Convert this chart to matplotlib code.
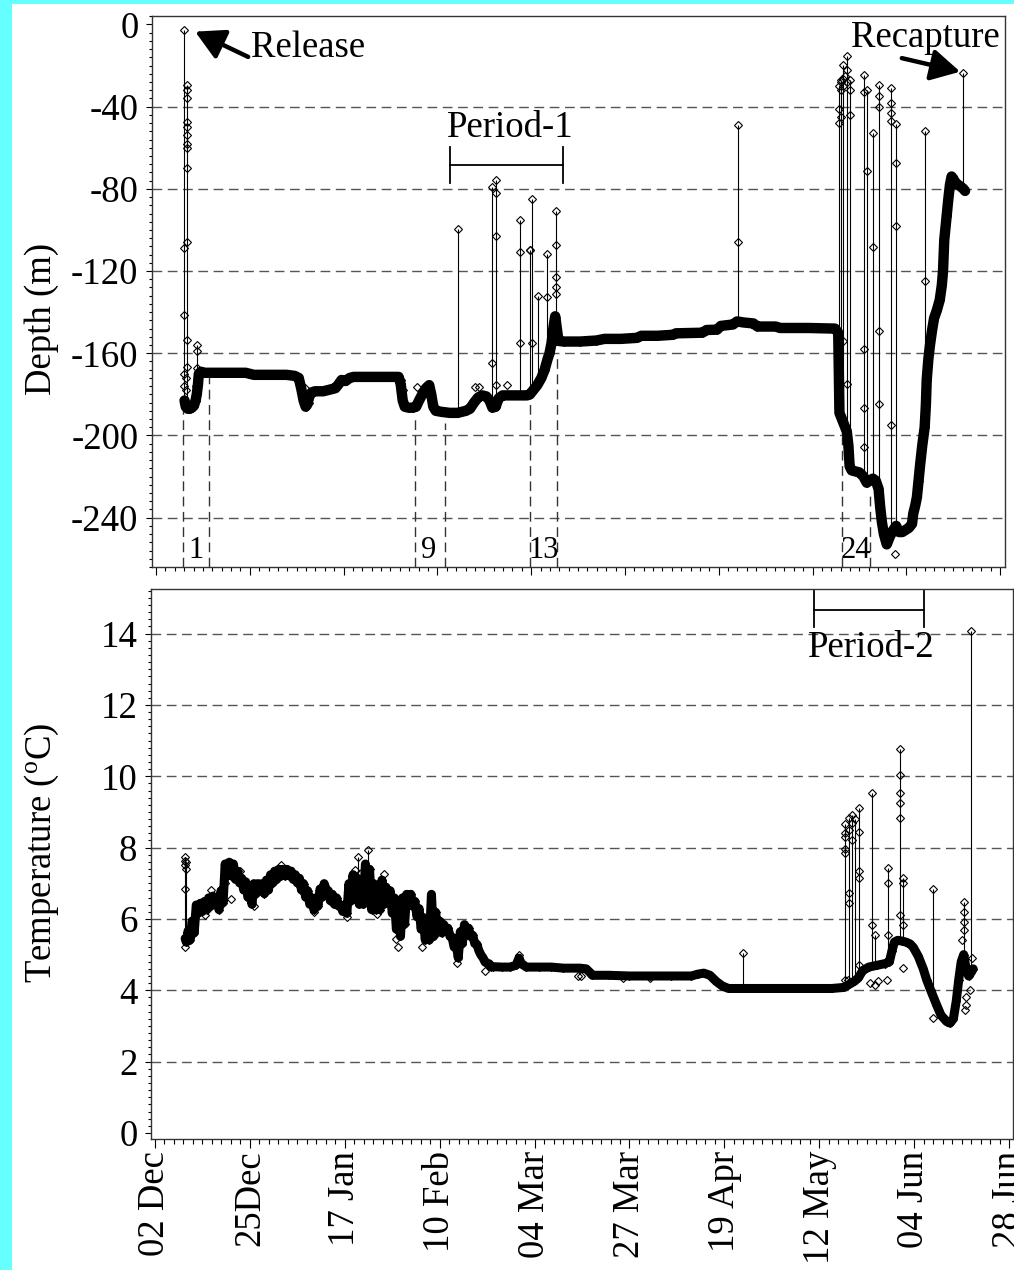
import matplotlib
matplotlib.use("Agg")
import matplotlib.pyplot as plt
from matplotlib.ticker import MultipleLocator
from matplotlib.patches import Rectangle

plt.rcParams['font.family'] = ['Liberation Serif', 'DejaVu Serif']
plt.rcParams['mathtext.fontset'] = 'custom'
plt.rcParams['mathtext.rm'] = 'Liberation Serif'
plt.rcParams['axes.unicode_minus'] = False

# ---------------- data ----------------
x_tick_days = [0, 23, 46, 69, 92, 115, 138, 161, 184, 207]
x_tick_labels = ['02 Dec', '25Dec', '17 Jan', '10 Feb', '04 Mar', '27 Mar',
                 '19 Apr', '12 May', '04 Jun', '28 Jun']
depth_ticks = [0, -40, -80, -120, -160, -200, -240]
depth_tick_labels = ['0', '-40', '-80', '-120', '-160', '-200', '-240']
depth_grid = [-40, -80, -120, -160, -200, -240]
temp_ticks = [0, 2, 4, 6, 8, 10, 12, 14]
temp_tick_labels = ['0', '2', '4', '6', '8', '10', '12', '14']
temp_grid = [2, 4, 6, 8, 10, 12, 14]

# depth track (days since 02 Dec, metres)
depth_day = [7.0, 7.3, 7.8, 8.3, 8.8, 9.3, 9.7, 10.0, 10.3, 10.5, 11.0, 12, 14, 16, 18, 20, 22, 23, 24,
             26, 28, 30, 32, 34, 35, 35.6, 36.2, 36.7, 37.1, 37.6, 38.2, 39, 41, 43, 44, 44.8, 45.5,
             46.5, 47.5, 48.5, 51, 54, 57, 59.5, 60.0, 60.5, 61, 62, 63, 63.8, 64.5, 65.3, 66.2, 67.0,
             67.5, 68.0, 68.6, 70, 72, 74, 76, 77, 78, 79, 80, 81, 81.8, 82.5, 83.3, 84, 85, 88, 91,
             91.7, 92.5, 93.5, 94.5, 95.3, 96, 96.5, 97, 97.5, 97.9, 98.3, 98.7, 100, 104, 108, 110,
             114, 118, 119, 123, 126.8, 127.5, 134, 135, 137.6, 138.5, 141.5, 142.5, 144, 146.5,
             147.5, 152, 153, 160, 166.5, 167.3, 167.6, 168.2, 168.8, 169.4, 169.8, 170.1, 170.6,
             171.5, 172.5, 173.5, 174.3, 175.0, 175.8, 176.5, 177.2, 177.6, 178.0, 178.5, 179.2,
             180.0, 180.8, 181.5, 182.2, 183.0, 183.8, 184.6, 185.4, 185.7, 186.2, 186.6, 187.0,
             187.4, 187.9, 188.5, 188.8, 189.0, 189.4, 189.8, 190.3, 190.8, 191.5, 192.2, 192.7,
             193.0, 193.3, 193.6, 193.9, 194.3, 194.7, 195.1, 195.5, 196.0, 196.7, 197.4, 198.0, 198.4]
depth_m = [-183, -186, -187, -187, -186.5, -185.5, -183, -180, -175, -170, -169, -169.5, -169.5, -169.5,
           -169.5, -169.5, -169.5, -170, -170.5, -170.5, -170.5, -170.5, -170.5, -171, -172, -177, -183,
           -186, -185, -181, -179, -178.5, -178.5, -177.5, -177, -175, -173, -173.5, -172, -171.5,
           -171.5, -171.5, -171.5, -171.5, -175, -183, -186, -186.5, -186.5, -186, -183, -180, -177,
           -175.5, -180, -186, -188, -188.5, -189, -189, -188, -187, -184, -181.5, -180.5, -181, -183,
           -186.5, -186, -182, -180.5, -180.5, -180.5, -180, -178, -175.5, -172, -168, -163, -160,
           -155, -147, -142, -148, -154, -154.3, -154.3, -153.8, -153, -153, -152.5, -151.5, -151.5,
           -151, -150.3, -150, -148.7, -148.5, -146.7, -146, -144.5, -145, -145.5, -147, -147, -147.7,
           -147.7, -148, -150, -189, -192, -195, -198, -205, -215, -217, -217.5, -218, -220, -223,
           -222, -221, -222, -226, -235, -242, -248, -253, -249, -246, -244, -247, -247, -246, -245,
           -243, -238, -234, -230, -222, -214, -205, -196, -185, -173, -163, -156, -149, -143, -139,
           -134, -127, -120, -105, -99, -93, -85, -78, -74, -75, -77, -78, -79, -80, -81]

# excursions (vertical spikes) in depth
depth_spike_day = [6.95, 7.7, 10.1, 74.1, 82.4, 83.5, 89.3, 91.75, 92.2, 93.8, 95.8, 98.0, 142.7,
                   167.4, 167.9, 168.5, 169.4, 170.2, 173.6, 174.3, 175.8, 177.4, 180.3, 181.5,
                   188.6, 197.9]
depth_spike_base = [-186, -186, -183, -189, -186, -185, -180.5, -180, -180, -176, -169, -147, -145,
                    -191, -192, -195, -199, -216, -220, -223, -221, -226, -248, -244, -196, -80]
depth_spike_top = [-2.7, -29.4, -156, -99.7, -78.9, -75.7, -95.1, -110, -85, -132, -111.5, -91, -48.9,
                   -30, -27, -19.5, -15.2, -27, -24.7, -32, -53, -29.3, -30.8, -48.5, -51.8, -23.5]

# isolated readings along the excursions
depth_pt_day = [6.95, 6.95, 6.95, 6.95, 7.7, 7.7, 7.6, 7.7, 7.7, 7.6, 7.7, 7.7, 7.6, 7.7, 7.6, 7.3, 7.3,
                10.1, 10.0, 9.9, 36.5, 37.5, 60.1, 60.5, 64.0, 78.2, 79.2, 86.0,
                82.4, 83.5, 83.5, 83.3, 89.3, 89.3, 91.75, 92.2, 95.8, 98.0, 98.0, 98.0, 98.0, 142.7,
                167.4, 167.4, 167.9, 167.9, 168.5, 168.5, 168.5, 169.4, 169.4, 169.4, 169.4, 170.2,
                170.2, 168.0, 168.9, 173.6, 173.6, 173.6, 173.6, 174.3, 175.8, 177.4, 177.4, 177.4,
                177.4, 180.3, 180.3, 180.3, 180.3, 181.5, 181.5, 188.6, 181.3]
depth_pt_m = [-108.9, -141.4, -170, -176, -32, -36, -47.3, -50, -54, -58, -60.2, -70, -105.7, -153.5,
              -166.7, -172, -178, -159, -167, -176, -177, -184, -173, -178, -176.5, -176.4, -176.4,
              -175.4, -164.8, -81.9, -102.9, -175.4, -110.5, -154.8, -110, -154.8, -132.4, -107.5,
              -123, -128, -131, -105.7, -41, -48, -32, -45, -26.5, -30, -154, -22, -28, -175, -203,
              -32, -44, -28, -25, -32.7, -157.7, -186.4, -205.6, -71.2, -108.5, -35, -40, -149,
              -184.7, -38, -43, -47, -194.9, -67.4, -98, -124.8, -257.7]

# temperature track (upper / lower readings of the band where it is noisy)
temp_day = [7.3, 7.6,
            8.0, 8.5, 9.0, 9.5, 10.0, 10.5, 11.0, 11.5, 12.0, 12.5, 13.0, 13.5, 14.0, 14.5, 15.0, 15.5,
            16.0, 16.5, 17.0, 17.5, 18.0, 18.5, 19.0, 19.5, 20.0, 20.5, 21.0, 21.5, 22.0, 22.5, 23.0,
            23.5, 24.0, 24.5, 25.0, 25.5, 26.0, 26.5, 27.0, 27.5, 28.0, 28.5, 29.0, 29.5, 30.0, 30.5,
            31.0, 31.5, 32.0, 32.5, 33.0, 33.5, 34.0, 34.5, 35.0, 35.5, 36.0, 36.5, 37.0, 37.5, 38.0,
            38.5, 39.0, 39.5, 40.0, 40.5, 41.0, 41.5, 42.0, 42.5, 43.0, 43.5, 44.0, 44.5, 45.0, 45.5,
            46.0, 46.5, 47.0, 47.5, 48.0, 48.5, 49.0, 49.5, 50.0, 50.5, 51.0, 51.5, 52.0, 52.5, 53.0,
            53.5, 54.0, 54.5, 55.0, 55.5, 56.0, 56.5, 57.0, 57.5, 58.0, 58.5, 59.0, 59.5, 60.0, 60.5,
            61.0, 61.5, 62.0, 62.5, 63.0, 63.5, 64.0, 64.5, 65.0, 65.5, 66.0, 66.5, 67.0, 67.5, 68.0,
            68.5, 69.0, 69.5, 70.0, 70.5, 71.0, 71.5, 72.0, 72.5, 73.0, 73.5, 74.0, 74.5, 75.0, 75.5,
            76.0, 76.5, 77.0, 77.5, 78.0, 78.5, 79.0, 79.5, 80.0, 80.5, 81.0, 81.5,
            82, 84, 86, 87.5, 88.2, 88.8, 90, 93, 96, 99, 103, 104.5, 105.4, 106, 110, 115, 120, 125,
            130, 131.5, 133, 134.5, 136, 137.5, 139, 142, 146, 150, 155, 160, 164, 167, 168, 169.5,
            170.5, 171.5, 173, 175, 177, 178, 178.6, 179.2, 180, 181, 182, 183, 183.8, 185, 186.2,
            187, 188, 189.4, 190.5, 191.9, 192.7, 193.5, 194.2, 194.8, 195.4, 196, 196.6, 197.2,
            197.8, 198.3]
temp_c = [5.45, 5.35,
          5.66, 5.41, 5.94, 5.61, 6.39, 6.16, 6.44, 6.21, 6.49, 6.26, 6.59, 6.36, 6.64, 6.41, 6.54,
          6.26, 6.79, 6.46, 7.54, 7.21, 7.59, 7.21, 7.54, 7.11, 7.34, 7.01, 7.14, 6.81, 7.04, 6.61,
          6.69, 6.41, 6.99, 6.71, 6.99, 6.81, 6.99, 6.71, 7.09, 6.81, 7.24, 7.01, 7.34, 7.11, 7.39,
          7.21, 7.39, 7.21, 7.39, 7.21, 7.34, 7.11, 7.24, 7.01, 7.14, 6.81, 6.99, 6.61, 6.79, 6.41,
          6.59, 6.26, 6.59, 6.36, 6.84, 6.61, 6.99, 6.81, 6.79, 6.51, 6.69, 6.41, 6.59, 6.36, 6.39,
          6.21, 6.39, 6.16, 6.99, 6.51, 7.24, 6.61, 7.14, 6.41, 7.09, 6.41, 7.54, 6.61, 7.39, 6.26,
          6.99, 6.26, 6.59, 6.26, 7.09, 6.41, 6.89, 6.51, 6.79, 6.16, 6.59, 5.71, 6.39, 5.51, 6.59,
          5.86, 6.69, 6.41, 6.69, 6.36, 6.49, 6.06, 6.29, 5.71, 6.04, 5.41, 5.84, 5.41, 6.69, 5.51,
          6.19, 5.71, 5.94, 5.61, 5.84, 5.71, 5.74, 5.51, 5.49, 5.21, 5.29, 4.91, 5.64, 5.31, 5.84,
          5.71, 5.74, 5.51, 5.54, 5.31, 5.29, 5.11, 4.99, 4.91, 4.79, 4.76, 4.74, 4.66,
          4.66, 4.65, 4.65, 4.7, 4.9, 4.75, 4.65, 4.65, 4.65, 4.62, 4.62, 4.6, 4.5, 4.42, 4.42, 4.4,
          4.4, 4.4, 4.4, 4.45, 4.48, 4.42, 4.25, 4.12, 4.05, 4.05, 4.05, 4.05, 4.05, 4.05, 4.05,
          4.08, 4.15, 4.25, 4.35, 4.55, 4.65, 4.7, 4.75, 4.8, 5.1, 5.35, 5.4, 5.38, 5.35, 5.3, 5.2,
          4.95, 4.6, 4.3, 4.0, 3.6, 3.3, 3.12, 3.08, 3.2, 3.7, 4.3, 4.8, 5.0, 4.6, 4.4, 4.5, 4.6]

temp_spike_day = [7.27, 7.55, 49.3, 51.7, 142.6, 167.3, 168.2, 169.0, 169.7, 170.6, 173.7, 174.5,
                  177.6, 180.6, 181.4, 188.6, 196.0, 197.7]
temp_spike_base = [5.3, 5.5, 6.9, 7.0, 4.05, 4.12, 4.15, 4.25, 4.3, 4.35, 4.65, 4.68, 4.75, 5.4,
                   5.38, 3.95, 5.0, 4.5]
temp_spike_top = [7.73, 7.6, 7.73, 7.94, 5.05, 8.65, 8.84, 8.9, 8.8, 9.12, 9.54, 5.56, 7.43, 10.76,
                  7.15, 6.83, 6.47, 14.07]

temp_pt_day = [7.27, 7.27, 7.27, 7.27, 7.55, 12.0, 13.5, 17.0, 18.5, 20.5, 24.0, 30.5, 38.5, 40.0,
               46.5, 48.5, 50.0, 53.7, 55.5, 58.5, 59.0, 64.8, 69.5, 73.2, 80.0, 88.2, 102.6, 103.3,
               113.5, 120.0, 167.3, 167.3, 167.3, 167.3, 167.3, 168.2, 168.2, 168.2, 169.0, 169.0,
               170.6, 170.6, 170.6, 170.6, 173.7, 177.6, 177.6, 180.6, 180.6, 180.6, 180.6, 180.6,
               181.4, 181.4, 181.4, 196.0, 196.0, 196.0, 195.5, 196.3, 196.5, 173.3, 174.6, 175.3,
               177.5, 168.0, 188.6, 196.6, 197.5, 198.0]
temp_pt_c = [7.62, 7.5, 6.83, 5.2, 7.4, 6.12, 6.8, 7.0, 6.55, 7.35, 6.35, 7.5, 6.2, 6.85, 6.05, 7.36,
             7.3, 6.14, 7.25, 5.45, 5.22, 5.22, 5.9, 4.77, 4.55, 5.0, 4.39, 4.39, 4.35, 4.35, 8.4, 8.3,
             7.95, 7.85, 4.3, 8.5, 6.73, 6.45, 8.7, 8.2, 8.45, 7.35, 7.15, 4.72, 5.84, 7.0, 5.56,
             10.03, 9.54, 9.26, 8.84, 6.12, 7.0, 5.84, 4.63, 6.2, 5.9, 5.7, 5.4, 3.45, 3.8, 4.2, 4.15,
             4.25, 4.3, 4.3, 3.22, 3.6, 4.0, 4.9]

# dashed reference lines (bottom of axis up to the track) and their labels
event_day = [6.7, 13.1, 63.5, 70.9, 91.7, 98.4, 168.2, 175.0]
event_top = [-186, -171.5, -191.5, -194, -181.7, -160.8, -200.7, -228]
event_label = ['1', '9', '13', '24']
event_label_day = [9.85, 66.9, 95.1, 171.7]

# ---------------- figure ----------------
W, H = 1014, 1270
fig = plt.figure(figsize=(W / 100, H / 100), dpi=100)
fig.patch.set_facecolor('#66ffff')
fig.add_artist(Rectangle((12 / W, 0), 1, 1 - 4 / H, transform=fig.transFigure,
                         facecolor='white', edgecolor='none', zorder=-10))

ax1 = fig.add_axes([152 / W, 1 - 567 / H, (1005 - 152) / W, (567 - 16) / H])
ax2 = fig.add_axes([151 / W, 1 - 1139 / H, (1013 - 151) / W, (1139 - 589) / H])

FS = 26.5
grid_kw = dict(color='#555555', lw=1.0, ls=(0, (7, 4)), zorder=1)
mk = dict(marker='D', ms=4.3, mfc='none', mec='k', mew=0.8, ls='none', zorder=5)

D_BOTTOM, D_TOP = -264, 4.1
T_BOTTOM, T_TOP = -0.17, 15.25

# ---- depth panel ----
for g in depth_grid:
    ax1.axhline(g, **grid_kw)
ax1.vlines(event_day, D_BOTTOM, event_top, colors='#333333', lw=1.0,
           linestyles=[(0, (7, 4))], zorder=1)
ax1.vlines(depth_spike_day, depth_spike_base, depth_spike_top, colors='k', lw=0.8, zorder=3)
ax1.plot(depth_day, depth_m, color='k', lw=7.5, solid_joinstyle='round',
         solid_capstyle='round', marker='D', ms=4.3, mfc='none', mec='k', mew=0.8, zorder=4)
ax1.plot(depth_spike_day, depth_spike_top, **mk)
ax1.plot(depth_pt_day, depth_pt_m, **mk)

for lab, d in zip(event_label, event_label_day):
    ax1.text(d, -259.8, lab, fontsize=22, ha='center', va='baseline')

arrow_kw = dict(arrowstyle='-|>,head_length=1.1,head_width=0.6', lw=3.2, color='k',
                shrinkA=0, shrinkB=0, mutation_scale=16)
ax1.annotate('', xy=(9.6, -3.5), xytext=(22.6, -15.8), arrowprops=arrow_kw)
ax1.text(23.4, -15.8, 'Release', fontsize=FS, ha='left', va='baseline')
ax1.annotate('', xy=(197.2, -23), xytext=(182.9, -16.4), arrowprops=arrow_kw)
ax1.text(170.4, -10.8, 'Recapture', fontsize=FS, ha='left', va='baseline')

ax1.plot([72.1, 99.8], [-68.4, -68.4], color='k', lw=1.3, zorder=3)
ax1.plot([72.1, 72.1], [-59.6, -77.1], color='k', lw=1.3, zorder=3)
ax1.plot([99.8, 99.8], [-59.6, -77.1], color='k', lw=1.3, zorder=3)
ax1.text(86.9, -54.6, 'Period-1', fontsize=FS, ha='center', va='baseline')

ax1.set_xlim(-0.98, 208.2)
ax1.set_ylim(D_BOTTOM, D_TOP)
ax1.set_xticks(x_tick_days)
ax1.set_xticklabels([])
ax1.xaxis.set_minor_locator(MultipleLocator(2.3))
ax1.set_yticks(depth_ticks)
ax1.set_yticklabels(depth_tick_labels, fontsize=FS)
ax1.yaxis.set_minor_locator(MultipleLocator(4))
ax1.tick_params(axis='x', which='major', length=5.8, width=0.8, direction='out')
ax1.tick_params(axis='x', which='minor', length=3.0, width=0.8, direction='out')
ax1.tick_params(axis='y', which='major', length=4.3, width=0.8, direction='out', pad=5.5)
ax1.tick_params(axis='y', which='minor', length=2.4, width=0.8, direction='out')

# ---- temperature panel ----
for g in temp_grid:
    ax2.axhline(g, **grid_kw)
ax2.vlines(temp_spike_day, temp_spike_base, temp_spike_top, colors='k', lw=0.8, zorder=3)
ax2.plot(temp_day, temp_c, color='k', lw=6.5, solid_joinstyle='round', solid_capstyle='round',
         marker='D', ms=4.3, mfc='none', mec='k', mew=0.8, zorder=4)
ax2.plot(temp_spike_day, temp_spike_top, **mk)
ax2.plot(temp_pt_day, temp_pt_c, **mk)

ax2.plot([159.7, 186.4], [14.67, 14.67], color='k', lw=1.3, zorder=3)
ax2.plot([159.7, 159.7], [14.19, 15.2], color='k', lw=1.3, zorder=3)
ax2.plot([186.4, 186.4], [14.19, 15.2], color='k', lw=1.3, zorder=3)
ax2.text(173.5, 13.33, 'Period-2', fontsize=FS, ha='center', va='baseline')

ax2.set_xlim(-0.97, 207.95)
ax2.set_ylim(T_BOTTOM, T_TOP)
ax2.set_xticks(x_tick_days)
ax2.set_xticklabels(x_tick_labels, rotation=90, fontsize=FS, ha='center', va='top')
ax2.xaxis.set_minor_locator(MultipleLocator(2.3))
ax2.set_yticks(temp_ticks)
ax2.set_yticklabels(temp_tick_labels, fontsize=FS)
ax2.yaxis.set_minor_locator(MultipleLocator(0.2))
ax2.tick_params(axis='x', which='major', length=6.5, width=0.8, direction='out', pad=2)
ax2.tick_params(axis='x', which='minor', length=3.4, width=0.8, direction='out')
ax2.tick_params(axis='y', which='major', length=4.3, width=0.8, direction='out', pad=5.5)
ax2.tick_params(axis='y', which='minor', length=2.4, width=0.8, direction='out')

for ax in (ax1, ax2):
    ax.set_facecolor('white')
    for s in ax.spines.values():
        s.set_color('#333333')
        s.set_linewidth(1.0)

fig.text(41.6 / W, 1 - 319 / H, 'Depth (m)', rotation=90, fontsize=FS, ha='center', va='center')
fig.text(41.6 / W, 1 - 853 / H, r'Temperature ($\mathregular{^o}$C)', rotation=90, fontsize=FS,
         ha='center', va='center')

fig.savefig('out.png', dpi=100, facecolor=fig.get_facecolor())
